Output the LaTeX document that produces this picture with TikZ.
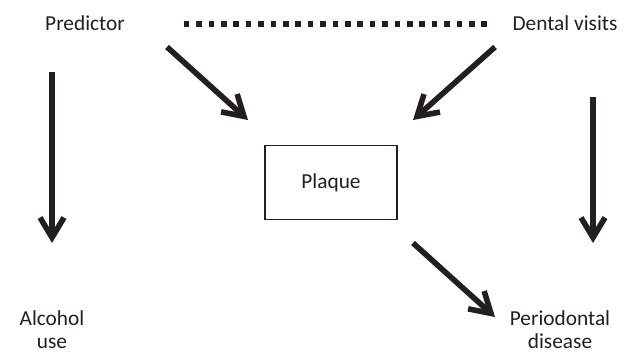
\documentclass[tikz,border=0pt]{standalone}
\usepackage{fontspec}
\setmainfont{Carlito}
\usetikzlibrary{arrows.meta}
\definecolor{ink}{RGB}{35,31,32}
\tikzstyle{term} = [text=ink, font=\fontsize{16}{17.25}\selectfont, align=center, inner sep=0pt]
\tikzstyle{block} = [term, rectangle, draw=ink, line width=0.9pt, minimum width=99pt, minimum height=56pt]
\tikzstyle{line} = [draw=ink, line width=4.2pt, -{Straight Barb[length=15pt, width=18pt]}]
\tikzstyle{dots} = [draw=ink, line width=4.5pt, dash pattern=on 4.2pt off 5.1pt]

\begin{document}
\begin{tikzpicture}[x=0.75pt, y=-0.75pt]
		\useasboundingbox (0,0) rectangle (627,352);

		\node [term, anchor=base] (predictor) at (85,31) {Predictor};
		\node [term, anchor=base] (dental) at (565,31) {Dental visits};
		\node [block] (plaque) at (331,182.5) {Plaque};
		\node [term, anchor=base] (alcohol) at (52,348) {Alcohol\\use};
		\node [term, anchor=base] (periodontal) at (560,348) {Periodontal\\disease};

		% free ends of the arrows
		\coordinate (predictor-out) at (167,47);
		\coordinate (plaque-in-left) at (248,120);
		\coordinate (dental-out) at (495,47);
		\coordinate (plaque-in-right) at (413,120);
		\coordinate (plaque-out) at (413,243);
		\coordinate (periodontal-in) at (495,317);
		\coordinate (alcohol-top) at (52,72);
		\coordinate (alcohol-in) at (52,243);
		\coordinate (disease-top) at (593,97);
		\coordinate (disease-in) at (593,243);

		\path [dots, shorten <=44pt, shorten >=15pt] (predictor.east) -- (dental.west);
		\path [line] (predictor-out) -- (plaque-in-left);
		\path [line] (dental-out) -- (plaque-in-right);
		\path [line] (plaque-out) -- (periodontal-in);
		\path [line] (alcohol-top) -- (alcohol-in);
		\path [line] (disease-top) -- (disease-in);
	\end{tikzpicture}
\end{document}
